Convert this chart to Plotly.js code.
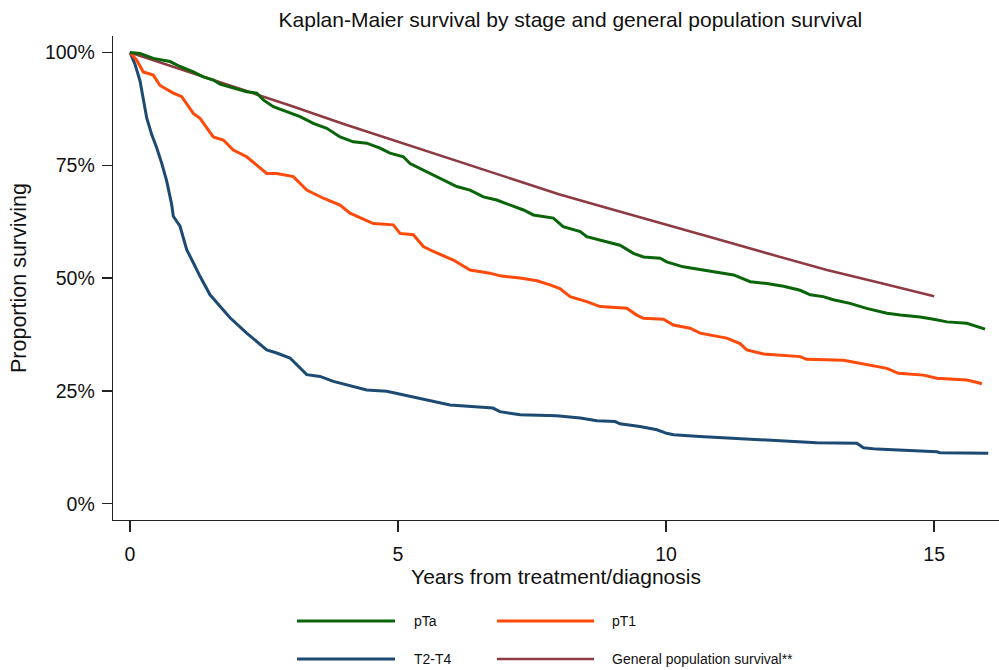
<!DOCTYPE html>
<html>
<head>
<meta charset="utf-8">
<script src="https://cdn.plot.ly/plotly-3.0.1.min.js"></script>
<style>html,body{margin:0;padding:0;background:#fff;}#chart{width:999px;height:670px;}</style>
</head>
<body>
<div id="chart"></div>
<script>
// ---- Data ----
var seriesNames = ["pTa", "pT1", "T2-T4", "General population survival**"];

var pTaYears = [0,0.187,0.435,0.621,0.746,0.933,1.181,1.368,1.554,1.679,1.866,2.177,2.364,2.487,2.674,2.923,3.172,3.42,3.67,3.918,4.166,4.416,4.664,4.85,5.099,5.224,5.41,5.659,5.845,6.095,6.343,6.592,6.84,7.09,7.34,7.524,7.897,8.08,8.40,8.52,8.89,9.14,9.39,9.58,9.89,10.01,10.32,10.63,10.95,11.26,11.57,11.88,12.19,12.50,12.69,12.93,13.12,13.43,13.74,14.12,14.37,14.74,14.99,15.24,15.61,15.80,15.95];
var pTaSurv = [100,99.8,98.7,98.3,98.0,96.9,95.7,94.6,93.9,93.0,92.4,91.3,91.0,89.5,88.0,86.9,85.8,84.3,83.2,81.3,80.2,79.9,78.8,77.7,76.9,75.4,74.3,72.8,71.7,70.3,69.5,68.0,67.3,66.2,65.1,64.0,63.3,61.4,60.3,59.2,58.1,57.3,55.5,54.7,54.4,53.6,52.5,51.9,51.4,50.7,49.2,48.8,48.2,47.3,46.3,45.9,45.2,44.4,43.3,42.2,41.8,41.4,40.9,40.3,40.0,39.2,38.7];

var pT1Years = [0,0.125,0.248,0.435,0.560,0.808,0.965,1.181,1.306,1.554,1.741,1.927,2.177,2.364,2.55,2.737,3.047,3.297,3.607,3.918,4.104,4.539,4.912,5.037,5.285,5.472,5.659,6.032,6.343,6.716,6.903,7.276,7.59,7.836,8.02,8.21,8.52,8.77,9.267,9.453,9.577,9.95,10.136,10.448,10.634,11.13,11.38,11.505,11.82,12.50,12.62,13.31,13.62,14.12,14.33,14.80,15.05,15.61,15.86,15.89];
var pT1Surv = [100,98.3,95.7,95.0,92.7,91.0,90.2,86.5,85.4,81.3,80.6,78.4,76.9,75.1,73.2,73.2,72.5,69.5,67.7,66.2,64.4,62.1,61.8,59.9,59.6,57.0,55.9,54.0,51.8,51.1,50.5,50.0,49.4,48.5,47.7,45.9,44.8,43.7,43.3,41.8,41.1,40.9,39.6,38.9,37.8,36.7,35.5,34.1,33.2,32.6,32.0,31.8,31.1,30.0,28.9,28.5,27.8,27.4,26.7,26.5];

var t2t4Years = [0,0.093,0.187,0.248,0.312,0.405,0.498,0.591,0.685,0.778,0.808,0.933,1.058,1.181,1.306,1.493,1.679,1.866,2.177,2.55,2.737,2.985,3.297,3.545,3.793,4.416,4.789,5.349,5.97,6.77,6.90,7.28,7.96,8.40,8.71,9.05,9.14,9.51,9.83,10.01,10.14,10.63,11.38,12.0,12.38,12.81,13.56,13.68,13.93,14.37,15.05,15.11,16.01];
var t2t4Surv = [100,97.4,93.7,90.0,85.5,81.8,78.9,75.5,71.5,66.3,63.7,61.5,56.3,53.4,50.4,46.3,43.7,41.2,37.8,34.1,33.4,32.3,28.6,28.2,27.1,25.2,24.9,23.4,21.9,21.2,20.4,19.7,19.5,19.0,18.4,18.2,17.7,17.1,16.4,15.6,15.3,14.9,14.4,14.1,13.8,13.5,13.4,12.4,12.1,11.9,11.5,11.3,11.2];

var genYears = [0,1,2,3,4,5,6,7,8,9,10,11,12,13,14,15];
var genSurv = [100,96.1,92.2,88.2,84.1,80.2,76.3,72.4,68.6,65.2,61.9,58.5,55.1,51.8,48.9,46.0];

var xTickVals = [0,5,10,15];
var xTickText = ["0","5","10","15"];
var yTickVals = [0,25,50,75,100];
var yTickText = ["0%","25%","50%","75%","100%"];

// ---- Styling ----
var colors = ["#0a650a", "#ff4a0a", "#1c4a72", "#8e3a42"];
var widths = [3, 3, 3, 2.6];
var xs = [pTaYears, pT1Years, t2t4Years, genYears];
var ys = [pTaSurv, pT1Surv, t2t4Surv, genSurv];
var order = [3, 2, 1, 0];

var traces = order.map(function(i){
  return {
    x: xs[i], y: ys[i], type: "scatter", mode: "lines",
    name: seriesNames[i], showlegend: false,
    line: {color: colors[i], width: widths[i], shape: "linear"},
    hoverinfo: "skip"
  };
});

// custom legend (2 columns x 2 rows) built from series names and colours
var legPos = [
  {x0: 0.2077, x1: 0.3183, tx: 0.3375, y: -0.2087},
  {x0: 0.4334, x1: 0.5429, tx: 0.5609, y: -0.2087},
  {x0: 0.2077, x1: 0.3183, tx: 0.3375, y: -0.2872},
  {x0: 0.4334, x1: 0.5429, tx: 0.5609, y: -0.2872}
];
var shapes = [], annotations = [];
seriesNames.forEach(function(n, i){
  var p = legPos[i];
  shapes.push({type: "line", xref: "paper", yref: "paper", x0: p.x0, x1: p.x1, y0: p.y, y1: p.y,
               line: {color: colors[i], width: widths[i]}});
  annotations.push({xref: "paper", yref: "paper", x: p.tx, y: p.y, text: n, showarrow: false,
                    xanchor: "left", yanchor: "middle", font: {size: 14, color: "#111"}});
});

var font = "Liberation Sans, Arial, Helvetica, sans-serif";
var layout = {
  width: 999, height: 670,
  margin: {l: 113, r: 0, t: 36, b: 150, pad: 0},
  paper_bgcolor: "#ffffff", plot_bgcolor: "#ffffff",
  font: {family: font, color: "#111", size: 19},
  title: {text: "Kaplan-Maier survival by stage and general population survival",
          font: {size: 21, color: "#111"}, x: 0.571, xanchor: "center", y: 0.971, yanchor: "middle"},
  xaxis: {
    range: [-0.317, 16.21], tickvals: xTickVals, ticktext: xTickText,
    showgrid: false, zeroline: false, showline: true, linecolor: "#222", linewidth: 1.3,
    ticks: "outside", ticklen: 11, tickwidth: 1.3, tickcolor: "#222", ticklabelstandoff: 5,
    tickfont: {size: 19.5},
    title: {text: "Years from treatment/diagnosis", font: {size: 21}, standoff: 0}
  },
  yaxis: {
    range: [-3.61, 103.66], tickvals: yTickVals, ticktext: yTickText,
    showgrid: false, zeroline: false, showline: true, linecolor: "#222", linewidth: 1.3,
    ticks: "outside", ticklen: 10, tickwidth: 1.3, tickcolor: "#222", ticklabelstandoff: 3,
    tickfont: {size: 19.5},
    title: {text: "Proportion surviving", font: {size: 21.5}, standoff: 12}
  },
  shapes: shapes,
  annotations: annotations
};

Plotly.newPlot("chart", traces, layout, {displayModeBar: false, staticPlot: true});
</script>
</body>
</html>
